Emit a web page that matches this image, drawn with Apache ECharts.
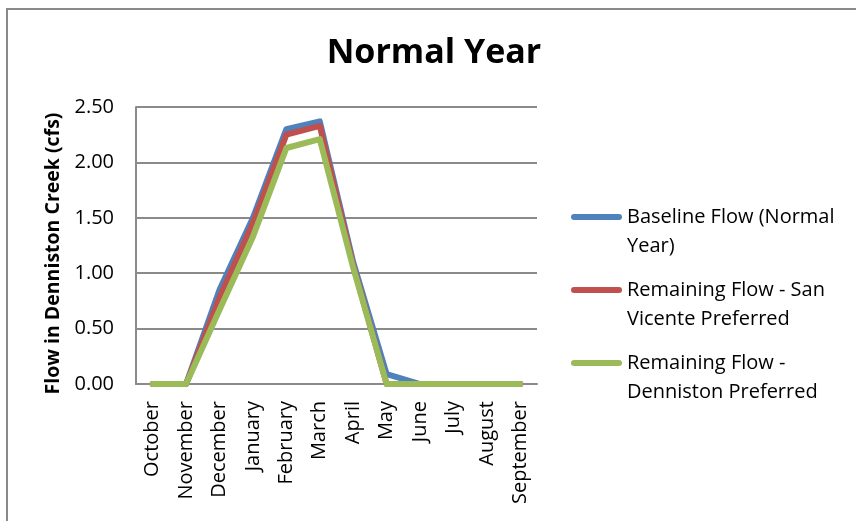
<!DOCTYPE html>
<html>
<head>
<meta charset="utf-8">
<script src="https://cdn.jsdelivr.net/npm/echarts@6/dist/echarts.min.js"></script>
<style>
  html, body { margin: 0; padding: 0; background: #fff; }
  #chart { width: 856px; height: 521px; }
</style>
</head>
<body>
<div id="chart"></div>
<script>
// Monthly flow in Denniston Creek, normal water year (cfs)
const months = ['October', 'November', 'December', 'January', 'February', 'March',
  'April', 'May', 'June', 'July', 'August', 'September'];
const baselineFlow = [0, 0, 0.85, 1.50, 2.30, 2.37, 1.10, 0.09, 0, 0, 0, 0];
const sanVicenteFlow = [0, 0, 0.78, 1.45, 2.25, 2.33, 1.07, 0, 0, 0, 0, 0];
const dennistonFlow = [0, 0, 0.67, 1.33, 2.13, 2.21, 1.05, 0, 0, 0, 0, 0];

const seriesNames = ['Baseline Flow (Normal Year)', 'Remaining Flow - San Vicente Preferred',
  'Remaining Flow - Denniston Preferred'];
// Wrapped legend text; the leading blank line keeps the swatch level with the first line
const legendLines = ['\nBaseline Flow (Normal\nYear)', '\nRemaining Flow - San\nVicente Preferred',
  '\nRemaining Flow -\nDenniston Preferred'];
const seriesColors = ['#4F81BD', '#C0504D', '#9BBB59'];
const yTicks = { min: 0, max: 2.5, step: 0.5 };

const FONT = 'Open Sans';
const GRID_GRAY = '#8a8a8a';

const chart = echarts.init(document.getElementById('chart'), null, { renderer: 'canvas' });

function lineSeries(i, values) {
  return {
    name: seriesNames[i],
    type: 'line',
    data: values,
    symbol: 'none',
    color: seriesColors[i],
    itemStyle: { color: seriesColors[i] },
    lineStyle: { width: 6, color: seriesColors[i], cap: 'round', join: 'round' },
    animation: false
  };
}

chart.setOption({
  backgroundColor: '#fff',
  animation: false,
  title: {
    text: 'Normal Year',
    left: 429,
    textAlign: 'center',
    top: 31,
    textStyle: { fontFamily: FONT, fontWeight: 'bold', fontSize: 34, color: '#000' }
  },
  graphic: [{
    type: 'rect',
    shape: { x: 7, y: 9, width: 900, height: 600 },
    style: { fill: 'none', stroke: GRID_GRAY, lineWidth: 2 },
    silent: true
  }],
  legend: {
    orient: 'vertical',
    left: 571,
    top: 173.5,
    padding: 0,
    itemGap: -14,
    itemWidth: 51,
    itemHeight: 6,
    icon: 'path://M3,0 L48,0 A3,3 0 0 1 48,6 L3,6 A3,3 0 0 1 3,0 Z',
    data: seriesNames,
    formatter: function (name) { return legendLines[seriesNames.indexOf(name)]; },
    textStyle: { fontFamily: FONT, fontSize: 20, color: '#000', lineHeight: 29 }
  },
  grid: { left: 136, right: 319, top: 107, bottom: 137, containLabel: false },
  xAxis: {
    type: 'category',
    data: months,
    boundaryGap: true,
    axisLine: { show: true, lineStyle: { color: GRID_GRAY, width: 2 } },
    axisTick: { show: false },
    axisLabel: {
      rotate: 90, interval: 0, margin: 17,
      fontFamily: FONT, fontSize: 20, color: '#000'
    }
  },
  yAxis: {
    type: 'value',
    min: yTicks.min,
    max: yTicks.max,
    interval: yTicks.step,
    name: 'Flow in Denniston Creek (cfs)',
    nameLocation: 'middle',
    nameRotate: 90,
    nameGap: 73,
    nameTextStyle: {
      fontFamily: FONT, fontWeight: 'bold', fontSize: 19.5, color: '#000',
      padding: [0, 16, 0, 0]
    },
    axisLine: { show: true, lineStyle: { color: GRID_GRAY, width: 2 } },
    axisTick: { show: false },
    splitLine: { show: true, lineStyle: { color: GRID_GRAY, width: 2 } },
    axisLabel: {
      margin: 22,
      fontFamily: FONT, fontSize: 20, color: '#000',
      formatter: function (v) { return v.toFixed(2); }
    }
  },
  series: [
    lineSeries(0, baselineFlow),
    lineSeries(1, sanVicenteFlow),
    lineSeries(2, dennistonFlow)
  ]
});
</script>
</body>
</html>
